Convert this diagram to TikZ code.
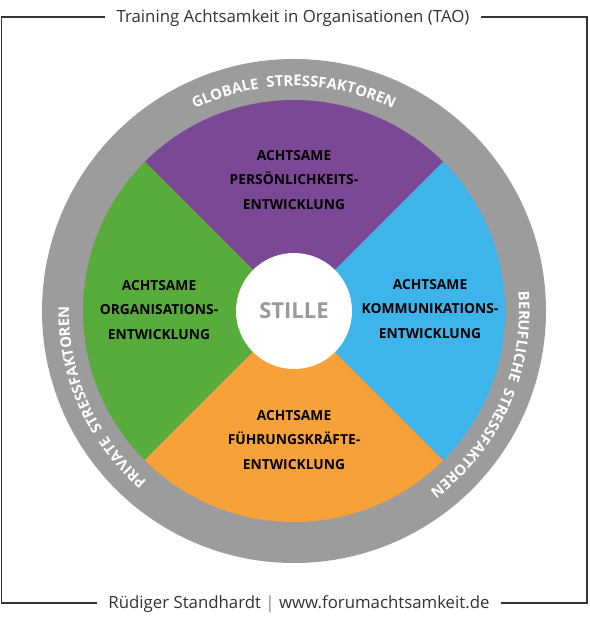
\documentclass[tikz,border=0pt]{standalone}
\usepackage{fontspec}
\setmainfont{Open Sans}
\usetikzlibrary{decorations.text, calc}

\definecolor{tlila}{HTML}{7A4895}
\definecolor{tgruen}{HTML}{58AC3B}
\definecolor{tblau}{HTML}{3DB4EA}
\definecolor{torange}{HTML}{F7A13A}
\definecolor{tring}{HTML}{9C9C9C}
\definecolor{trahmen}{HTML}{333333}
\definecolor{tstille}{HTML}{9A9A9A}

\newcommand{\ringschrift}{\fontsize{14.8}{17}\selectfont\bfseries}

\begin{document}
\begin{tikzpicture}[x=1pt, y=1pt,
    feld/.style={font=\fontsize{13.8}{24.5}\selectfont\bfseries, align=center, text=black},
    rand/.style={fill=white, text=trahmen, font=\fontsize{16.8}{19}\selectfont, inner xsep=11pt},
    ringtext/.style={decorate, decoration={text along path, text align=center,
        text color=white, text={#1}}}]
    \useasboundingbox (0,0) rectangle (589,621);

    % Mittelpunkt des Kreises
    \coordinate (mitte) at (294,310);

    % Rahmen mit Titel und Fusszeile
    \node[rand] (titel) at (293,603) {Training Achtsamkeit in Organisationen (TAO)};
    \node[rand] (fuss) at (299,17) {Rüdiger Standhardt \textcolor{gray}{|} www.forumachtsamkeit.de};
    \coordinate (ol) at (1.5,604);
    \coordinate (ul) at (1.5,18);
    \coordinate (or) at (587,604);
    \coordinate (ur) at (587,18);
    \draw[trahmen, line width=1.1pt] (titel.west |- ol) -- (ol) -- (ul) -- (fuss.west |- ul);
    \draw[trahmen, line width=1.1pt] (titel.east |- or) -- (or) -- (ur) -- (fuss.east |- ur);

    % grauer Ring
    \fill[tring] (mitte) circle (252pt);

    % die vier Felder
    \fill[tlila] (mitte) -- ++(45:211pt) arc[start angle=45, end angle=135, radius=211pt] -- cycle;
    \fill[tgruen] (mitte) -- ++(135:211pt) arc[start angle=135, end angle=225, radius=211pt] -- cycle;
    \fill[torange] (mitte) -- ++(225:211pt) arc[start angle=225, end angle=315, radius=211pt] -- cycle;
    \fill[tblau] (mitte) -- ++(315:211pt) arc[start angle=315, end angle=405, radius=211pt] -- cycle;

    % Stille in der Mitte
    \fill[white] (mitte) circle (58pt);
    \node[text=tstille, font=\fontsize{22}{25}\selectfont\bfseries] (stille) at (mitte) {STILLE};

    % Beschriftung der Felder
    \node[feld] (persoenlich) at (294,441) {ACHTSAME\\PERSÖNLICHKEITS-\\ENTWICKLUNG};
    \node[feld] (organisation) at (159,311) {ACHTSAME\\ORGANISATIONS-\\ENTWICKLUNG};
    \node[feld] (kommunikation) at (430,312) {ACHTSAME\\KOMMUNIKATIONS-\\ENTWICKLUNG};
    \node[feld] (fuehrung) at (294,181) {ACHTSAME\\FÜHRUNGSKRÄFTE-\\ENTWICKLUNG};

    % Stressfaktoren im Ring
    \path[ringtext={|\ringschrift|GLOBALE \ STRESSFAKTOREN}]
        ($(mitte)+(150:225pt)$) arc[start angle=150, end angle=30, radius=225pt];
    \path[ringtext={|\ringschrift|BERUFLICHE \ STRESSFAKTOREN}]
        ($(mitte)+(36:225pt)$) arc[start angle=36, end angle=-84, radius=225pt];
    \path[ringtext={|\ringschrift|PRIVATE \ STRESSFAKTOREN}]
        ($(mitte)+(264:225pt)$) arc[start angle=264, end angle=144, radius=225pt];
\end{tikzpicture}
\end{document}
